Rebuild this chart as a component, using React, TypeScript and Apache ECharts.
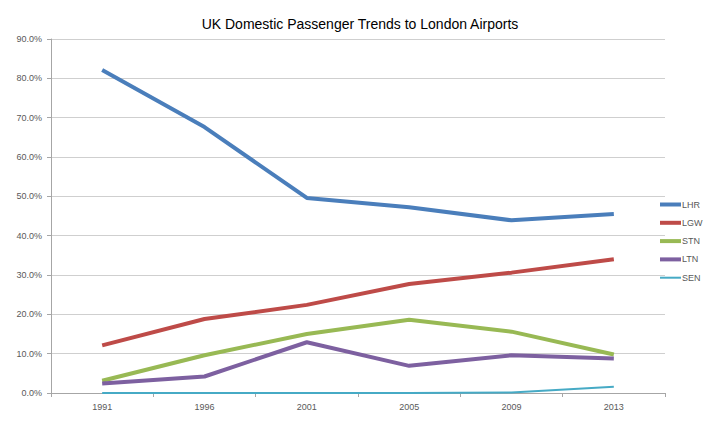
import React, { useEffect, useRef } from "react";
import * as echarts from "echarts";

const years = ["1991", "1996", "2001", "2005", "2009", "2013"];
const lhr = [82.1, 67.6, 49.6, 47.2, 43.9, 45.5];
const lgw = [12.1, 18.8, 22.4, 27.7, 30.6, 34.0];
const stn = [3.1, 9.6, 15.0, 18.6, 15.6, 9.8];
const ltn = [2.4, 4.2, 12.9, 6.9, 9.6, 8.8];
const sen = [0.0, 0.0, 0.0, 0.0, 0.1, 1.6];

const seriesNames = ["LHR", "LGW", "STN", "LTN", "SEN"];
const seriesColors = ["#4A7EBB", "#BE4B48", "#98B954", "#7D60A0", "#46AAC5"];
const seriesWidths = [4, 4, 4, 4, 2];
const seriesData = [lhr, lgw, stn, ltn, sen];

export default function App() {
  const ref = useRef<HTMLDivElement>(null);
  useEffect(() => {
    if (!ref.current) return;
    const chart = echarts.init(ref.current, undefined, { renderer: "svg" });
    chart.setOption({
      animation: false,
      backgroundColor: "#ffffff",
      title: {
        text: "UK Domestic Passenger Trends to London Airports",
        left: "center",
        top: 12,
        textStyle: {
          fontFamily: "Liberation Sans, Arial, sans-serif",
          fontSize: 14,
          fontWeight: "normal",
          color: "#000000",
        },
      },
      legend: {
        orient: "vertical",
        left: 655,
        top: 194,
        itemWidth: 21,
        itemHeight: 4,
        itemGap: 7.3,
        data: seriesNames.map((name, i) => ({
          name,
          icon: seriesWidths[i] === 2 ? "path://M0,0h21v2h-21z" : "rect",
        })),
        textStyle: {
          fontFamily: "Liberation Sans, Arial, sans-serif",
          fontSize: 9,
          lineHeight: 11,
          color: "#595959",
          padding: [0, 0, 0, -4],
        },
      },
      grid: { left: 51, right: 55, top: 39, bottom: 36, containLabel: false },
      xAxis: {
        type: "category",
        data: years,
        boundaryGap: true,
        axisLine: { lineStyle: { color: "#A6A6A6", width: 1 } },
        axisTick: { show: true, length: 4, lineStyle: { color: "#A6A6A6" } },
        axisLabel: {
          margin: 9,
          fontFamily: "Liberation Sans, Arial, sans-serif",
          fontSize: 9,
          color: "#595959",
        },
        splitLine: { show: false },
      },
      yAxis: {
        type: "value",
        min: 0,
        max: 90,
        interval: 10,
        axisLine: { show: true, lineStyle: { color: "#A6A6A6", width: 1 } },
        axisTick: { show: true, length: 4, lineStyle: { color: "#A6A6A6" } },
        axisLabel: {
          margin: 9,
          fontFamily: "Liberation Sans, Arial, sans-serif",
          fontSize: 9,
          color: "#595959",
          formatter: (v: number) => v.toFixed(1) + "%",
        },
        splitLine: { show: true, lineStyle: { color: "#CFCFCF", width: 1 } },
      },
      series: seriesNames.map((name, i) => ({
        name,
        type: "line",
        data: seriesData[i],
        symbol: "none",
        color: seriesColors[i],
        lineStyle: { color: seriesColors[i], width: seriesWidths[i] },
      })),
    });
    return () => chart.dispose();
  }, []);
  return (
    <div
      ref={ref}
      style={{ position: "fixed", left: 0, top: 0, width: 720, height: 429 }}
    />
  );
}
